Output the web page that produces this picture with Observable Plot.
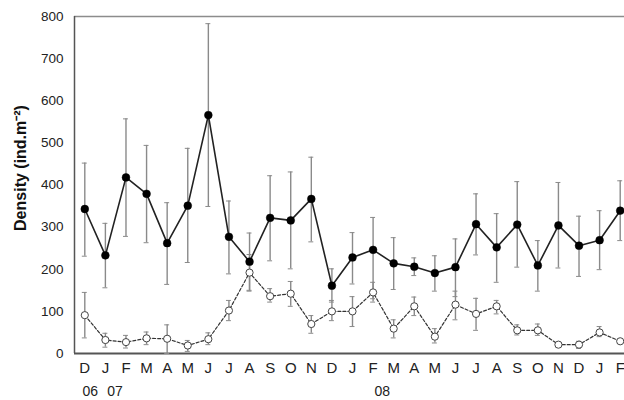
<!DOCTYPE html>
<html>
<head>
<meta charset="utf-8">
<script src="https://cdn.jsdelivr.net/npm/d3@7"></script>
<script src="https://cdn.jsdelivr.net/npm/@observablehq/plot@0.6"></script>
<style>
  html, body { margin: 0; padding: 0; background: #fff; }
  #chart svg { display: block; }
</style>
</head>
<body>
<div id="chart"></div>
<script>
const months = ["D","J","F","M","A","M","J","J","A","S","O","N","D","J","F","M","A","M","J","J","A","S","O","N","D","J","F"];
const yearLabels = ["06","07","08"];
const yearAt = [0.27, 1.47, 14.45];
const filledMean = [343,233,418,379,262,351,566,277,218,322,316,367,161,228,246,214,206,191,205,307,252,306,209,304,256,269,339];
const filledHi   = [452,309,557,494,358,487,783,362,286,422,431,466,201,287,323,275,227,232,272,379,332,408,268,406,326,339,410];
const filledLo   = [231,156,278,263,164,216,349,189,150,220,201,265,122,165,130,152,185,148,135,234,169,205,148,203,183,199,268];
const openMean = [91,32,27,36,35,19,34,102,192,136,142,70,100,100,145,59,112,40,116,94,112,55,55,21,21,50,29];
const openHi   = [145,48,43,51,68,31,49,126,235,154,171,90,126,135,169,80,134,59,148,131,126,68,70,26,29,64,33];
const openLo   = [37,15,13,21,0,5,21,78,148,122,112,48,78,64,122,37,90,25,80,55,94,44,43,16,12,40,25];
const yTicks = [0,100,200,300,400,500,600,700,800];

const filled = months.map((m, i) => ({i, m, v: filledMean[i], hi: filledHi[i], lo: filledLo[i]}));
const open = months.map((m, i) => ({i, m, v: openMean[i], hi: openHi[i], lo: openLo[i]}));
const years = yearLabels.map((t, k) => ({t, i: yearAt[k]}));
const cap = 0.12;
const errColor = "#8a8a8a";

function errorBars(data) {
  return [
    Plot.ruleX(data, {x: "i", y1: "lo", y2: "hi", stroke: errColor, strokeWidth: 1.4}),
    Plot.ruleY(data, {y: "hi", x1: d => d.i - cap, x2: d => d.i + cap, stroke: errColor, strokeWidth: 1}),
    Plot.ruleY(data, {y: "lo", x1: d => d.i - cap, x2: d => d.i + cap, stroke: errColor, strokeWidth: 1})
  ];
}

const chart = Plot.plot({
  width: 624,
  height: 400,
  marginTop: 16,
  marginBottom: 47,
  marginLeft: 74,
  marginRight: 0,
  style: {fontFamily: "'Liberation Sans', Arial, sans-serif", background: "#fff"},
  x: {type: "linear", domain: [-0.5, 26.5], range: [74, 630]},
  y: {domain: [0, 800]},
  marks: [
    Plot.axisY({ticks: yTicks, tickSize: 0, tickPadding: 11, fontSize: 13.5, color: "#222", label: null}),
    Plot.axisX({ticks: [], label: null}),
    Plot.ruleY([800], {stroke: "#8c8c8c", strokeWidth: 1.5}),
    Plot.ruleY([0], {stroke: "#555", strokeWidth: 2}),
    Plot.ruleX([-0.5], {y1: 0, y2: 800, stroke: "#555", strokeWidth: 1.5}),
    ...errorBars(open),
    ...errorBars(filled),
    Plot.line(open, {x: "i", y: "v", stroke: "#333", strokeWidth: 1.2, strokeDasharray: "3,2"}),
    Plot.line(filled, {x: "i", y: "v", stroke: "#222", strokeWidth: 1.6}),
    Plot.dot(open, {x: "i", y: "v", r: 3.6, fill: "#fff", stroke: "#444", strokeWidth: 1}),
    Plot.dot(filled, {x: "i", y: "v", r: 3.9, fill: "#000", stroke: "#000", strokeWidth: 0.5}),
    Plot.text(months, {x: (d, i) => i, y: 0, text: d => d, dy: 15, fontSize: 15, fill: "#222", lineAnchor: "middle"}),
    Plot.text(years, {x: "i", y: 0, text: "t", dy: 38, fontSize: 14, fill: "#222", lineAnchor: "middle"}),
    Plot.text(["Density (ind.m\u207B\u00B2)"], {frameAnchor: "left", textAnchor: "middle", lineAnchor: "middle", dx: -54, dy: -17, rotate: -90, fontSize: 16, fontWeight: "bold", fill: "#111"})
  ]
});
document.getElementById("chart").appendChild(chart);
</script>
</body>
</html>
